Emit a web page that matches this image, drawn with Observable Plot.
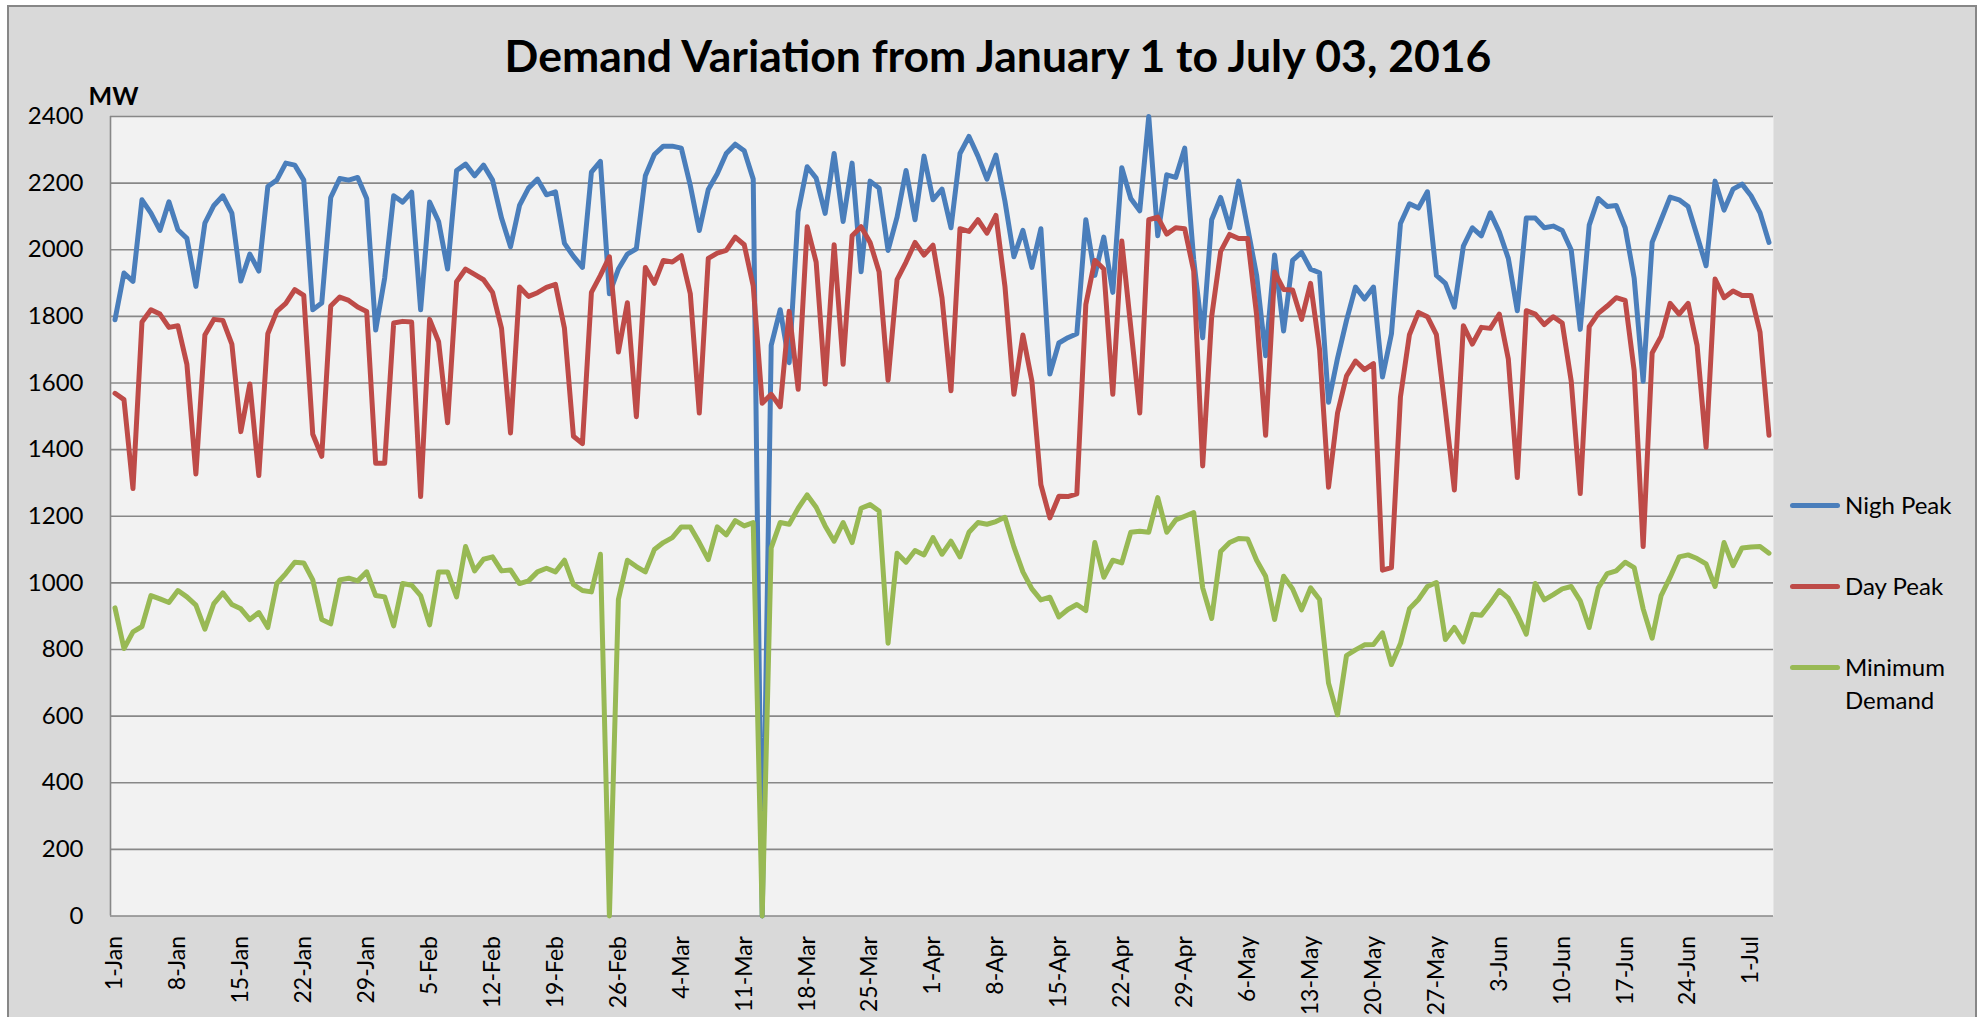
<!DOCTYPE html>
<html><head><meta charset="utf-8">
<script src="https://cdn.jsdelivr.net/npm/d3@7"></script>
<script src="https://cdn.jsdelivr.net/npm/@observablehq/plot@0.6"></script>
<style>
html,body{margin:0;padding:0;background:#fff;}
body{width:1984px;height:1017px;position:relative;overflow:hidden;font-family:Lato,"Open Sans",sans-serif;}
#frame{position:absolute;left:7px;top:5px;width:1970px;height:1040px;box-sizing:border-box;background:#d9d9d9;border:2px solid #878787;}
#title{position:absolute;left:0;width:1996px;top:31px;line-height:48px;text-align:center;font-weight:700;font-size:44.5px;color:#000;white-space:nowrap;}
#chart{position:absolute;left:0;top:80px;}
#legend{position:absolute;left:1790px;top:0;width:190px;height:1017px;}
.swatch{position:absolute;left:0;width:50px;height:5px;border-radius:3px;}
.label{position:absolute;left:55px;width:122px;font-size:24px;line-height:33px;color:#000;}
</style></head><body>
<div id="frame"></div>
<div id="title">Demand Variation from January 1 to July 03, 2016</div>
<div id="chart"></div>
<div id="legend"></div>
<script>
const nightPeak = [
1790,1930,1905,2150,2110,2058,2144,2060,2034,1890,2080,2133,2162,2110,1906,1987,1936,2190,2209,2260,2254,2209,1820,1840,2157,2214,
2209,2217,2154,1759,1915,2162,2143,2173,1820,2143,2085,1942,2238,2257,2222,2254,2209,2095,2009,2133,2185,2212,2165,2174,2019,1980,
1947,2233,2265,1868,1942,1987,2003,2222,2286,2311,2311,2305,2193,2058,2181,2228,2289,2317,2297,2212,0,1713,1820,1661,2114,2249,2215,
2109,2289,2085,2260,1934,2206,2185,1998,2098,2238,2090,2281,2150,2182,2066,2289,2340,2281,2212,2284,2146,1979,2058,1947,2063,1627,
1720,1736,1748,2090,1923,2038,1872,2246,2154,2117,2400,2042,2225,2217,2305,1971,1736,2090,2157,2066,2206,2066,1923,1682,1984,1756,
1968,1992,1942,1931,1542,1674,1788,1888,1852,1888,1618,1748,2079,2138,2125,2174,1923,1899,1828,2011,2066,2042,2111,2053,1974,1817,
2095,2095,2066,2071,2058,1999,1761,2074,2154,2130,2133,2066,1915,1605,2022,2090,2158,2150,2130,2042,1952,2206,2119,2182,2197,2162,2111,2022
];
const dayPeak = [
1569,1550,1283,1783,1820,1807,1767,1772,1656,1327,1744,1791,1788,1717,1454,1597,1322,1748,1815,1839,1880,1863,1446,1380,1831,1858,
1848,1828,1815,1359,1359,1780,1785,1783,1259,1791,1724,1481,1904,1942,1926,1910,1872,1764,1450,1888,1860,1871,1887,1896,1764,1440,
1418,1872,1923,1979,1693,1841,1499,1947,1899,1968,1963,1982,1868,1510,1974,1990,1998,2038,2015,1891,1539,1566,1529,1815,1581,2069,1963,
1597,2015,1656,2042,2069,2022,1934,1608,1910,1963,2022,1984,2014,1856,1577,2063,2055,2090,2050,2103,1891,1566,1744,1605,1295,1195,
1260,1259,1267,1836,1968,1942,1566,2026,1767,1510,2090,2098,2047,2066,2063,1936,1351,1799,1995,2046,2034,2034,1804,1443,1933,1881,
1879,1791,1899,1701,1287,1510,1621,1666,1640,1658,1038,1046,1558,1745,1812,1799,1745,1518,1279,1772,1717,1767,1764,1807,1672,1316,
1817,1807,1775,1799,1780,1605,1268,1769,1809,1831,1856,1848,1637,1109,1690,1740,1839,1807,1839,1713,1407,1912,1856,1876,1863,1863,1753,1443
];
const minDemand = [
925,803,853,869,962,952,941,977,958,933,861,938,970,935,922,890,911,866,998,1028,1062,1060,1009,890,877,1009,
1014,1006,1033,962,958,871,998,993,962,874,1033,1033,958,1109,1036,1071,1078,1036,1039,998,1006,1033,1044,1033,1068,995,
977,973,1086,0,950,1068,1049,1033,1100,1121,1136,1168,1168,1121,1070,1168,1144,1187,1171,1181,0,1105,1181,1176,1224,1264,1227,
1171,1125,1181,1121,1224,1235,1216,819,1089,1062,1097,1084,1136,1086,1125,1078,1152,1181,1176,1184,1197,1108,1033,982,949,957,
898,920,935,917,1121,1017,1068,1060,1152,1155,1152,1256,1152,1189,1200,1211,985,893,1094,1121,1133,1132,1068,1020,890,1020,
982,919,985,950,699,604,782,799,814,815,850,755,818,922,950,989,1001,830,866,823,906,903,938,977,954,905,
846,998,949,965,982,989,946,866,985,1028,1036,1062,1046,922,834,962,1017,1078,1084,1073,1057,989,1121,1052,1105,1108,1109,1089
];
const tickLabels = ["1-Jan","8-Jan","15-Jan","22-Jan","29-Jan","5-Feb","12-Feb","19-Feb","26-Feb","4-Mar","11-Mar","18-Mar","25-Mar","1-Apr","8-Apr","15-Apr","22-Apr","29-Apr","6-May","13-May","20-May","27-May","3-Jun","10-Jun","17-Jun","24-Jun","1-Jul"];
const yTicks = [0,200,400,600,800,1000,1200,1400,1600,1800,2000,2200,2400];
const seriesNames = ["Nigh Peak","Day Peak","Minimum Demand"];
const seriesColors = ["#4A7EBB","#BE4B48","#98B954"];

const series = [nightPeak, dayPeak, minDemand];
const rows = series.flatMap((vals, s) => vals.map((v, i) => ({day: i, value: v, series: seriesNames[s]})));
const xTicks = tickLabels.map((_, k) => k * 7);

const chart = Plot.plot({
  width: 1780, height: 937,
  marginLeft: 110, marginRight: 7, marginTop: 36, marginBottom: 101.5,
  style: {fontFamily: "Lato, sans-serif", fontSize: "24px", color: "#000", background: "transparent"},
  x: {domain: [-0.5, nightPeak.length - 0.5]},
  y: {domain: [0, 2400]},
  color: {domain: seriesNames, range: seriesColors},
  marks: [
    Plot.frame({fill: "#f2f2f2", stroke: "none"}),
    Plot.gridY(yTicks, {stroke: "#888", strokeOpacity: 1, strokeWidth: 1.6}),
    Plot.ruleX([-0.5], {stroke: "#888", strokeWidth: 1.6}),
    Plot.axisY(yTicks, {tickSize: 0, tickPadding: 27, fontSize: 24, tickFormat: d => String(d), label: null}),
    Plot.axisX(xTicks, {tickSize: 0, tickPadding: 20, tickRotate: -90, tickFormat: d => tickLabels[d / 7], fontSize: 23, label: null}),
    Plot.line(rows, {x: "day", y: "value", z: "series", stroke: "series", strokeWidth: 5, strokeLinejoin: "round", strokeLinecap: "round"}),
    Plot.text(["MW"], {frameAnchor: "top-left", dx: -22, dy: -20, textAnchor: "start", lineAnchor: "middle", fontWeight: "bold", fontSize: 25})
  ]
});
document.getElementById("chart").appendChild(chart);

const legendCenters = [505, 586, 667];
const legend = document.getElementById("legend");
seriesNames.forEach((name, k) => {
  const sw = document.createElement("div");
  sw.className = "swatch";
  sw.style.background = seriesColors[k];
  sw.style.top = (legendCenters[k] - 2.5) + "px";
  legend.appendChild(sw);
  const lb = document.createElement("div");
  lb.className = "label";
  lb.style.top = (legendCenters[k] - 17) + "px";
  lb.textContent = name;
  legend.appendChild(lb);
});
</script>
</body></html>
